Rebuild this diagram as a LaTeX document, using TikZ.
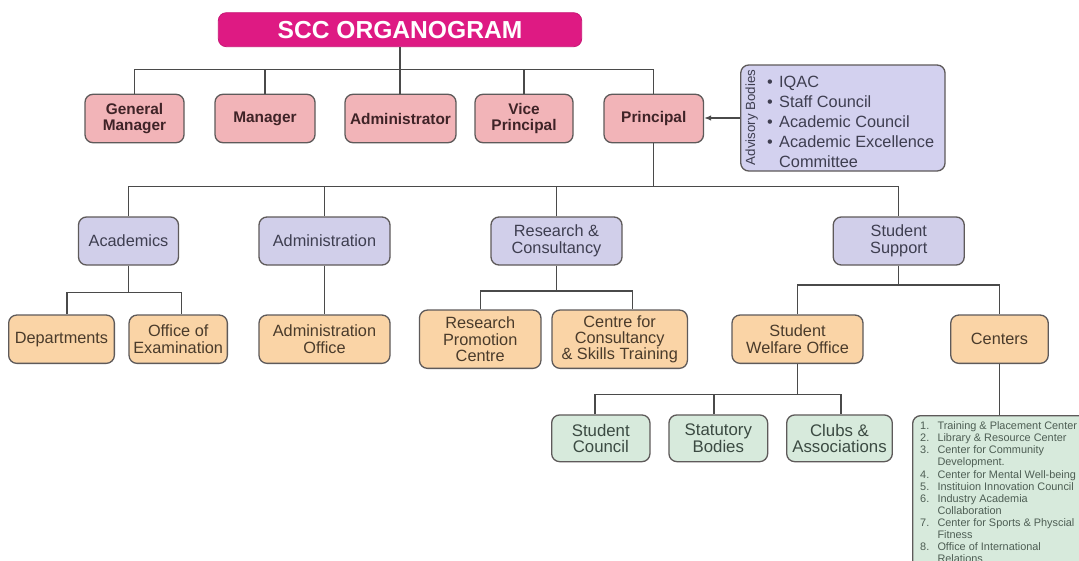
\documentclass[tikz,border=0pt]{standalone}
\usepackage{fontspec}
\setmainfont{Liberation Sans}
\usetikzlibrary{arrows.meta}
\definecolor{magentaT}{HTML}{DE1A83}
\definecolor{pinkF}{HTML}{F2B4B8}
\definecolor{lavF}{HTML}{D1CFEA}
\definecolor{peachF}{HTML}{FAD4A6}
\definecolor{greenF}{HTML}{D7EADC}
\definecolor{advF}{HTML}{D3D1EF}
\definecolor{edgeC}{HTML}{5E5A5A}
\definecolor{lineC}{HTML}{4A4A4A}
\definecolor{pinkT}{HTML}{3F2327}
\definecolor{lavT}{HTML}{3E3E50}
\definecolor{peachT}{HTML}{4A3B2B}
\definecolor{greenT}{HTML}{3B4A42}
\definecolor{listT}{HTML}{4E5E54}
\begin{document}
\begin{tikzpicture}[x=1pt,y=-1pt,
  box/.style={draw=edgeC, line width=1.3pt, rounded corners=8pt, inner sep=0pt, align=center},
  titlebox/.style={draw=magentaT!90!black, line width=0.8pt, fill=magentaT, rounded corners=8pt, inner sep=0pt,
    text=white, font=\bfseries\fontsize{24.6}{26}\selectfont},
  lvlA/.style={box, fill=pinkF, text=pinkT, font=\bfseries\fontsize{15.4}{15.2}\selectfont, minimum height=48.4pt},
  lvlB/.style={box, fill=lavF, text=lavT, font=\fontsize{16.3}{16.7}\selectfont, minimum height=48pt},
  lvlC/.style={box, fill=peachF, text=peachT, font=\fontsize{16.3}{16.2}\selectfont},
  lvlD/.style={box, fill=greenF, text=greenT, font=\fontsize{16.8}{15.4}\selectfont, minimum height=46.7pt},
  conn/.style={draw=lineC, line width=1.3pt}]
\fill[white] (0,0) rectangle (1079,560);
\useasboundingbox (0,0) rectangle (1079,560);
\clip (0,0) rectangle (1079,560);

% title
\node[titlebox, minimum width=363.4pt, minimum height=34pt] (title) at (400,29.7) {SCC ORGANOGRAM};

% level A
\node[lvlA, minimum width=99pt] (gm) at (134.5,118.5) {General\\Manager};
\node[lvlA, minimum width=100pt] (mgr) at (265,118.5) {Manager};
\node[lvlA, minimum width=111pt] (adm) at (400.5,118.5) {Administrator};
\node[lvlA, minimum width=98pt] (vp) at (524,118.5) {Vice\\Principal};
\node[lvlA, minimum width=99.5pt] (prin) at (653.75,118.5) {Principal};

% advisory bodies
\node[box, fill=advF, minimum width=204.3pt, minimum height=106pt] (adv) at (842.9,118) {};
\node[rotate=90, inner sep=0pt, text=lavT, font=\fontsize{13.3}{14}\selectfont] (advlab) at (751.7,117.5) {Advisory Bodies};
\node[anchor=north west, inner sep=0pt, text=lavT, font=\fontsize{16.3}{20}\selectfont] (advlist) at (767,72.8)
  {\begin{tabular}{@{}p{12pt}@{}l@{}}•&IQAC\\ •&Staff Council\\ •&Academic Council\\ •&Academic Excellence\\ &Committee\end{tabular}};

% level B
\node[lvlB, minimum width=100pt] (acad) at (128.5,241) {Academics};
\node[lvlB, minimum width=131pt] (admn) at (324.5,241) {Administration};
\node[lvlB, minimum width=131pt] (rc) at (556.5,241) {Research \&\\Consultancy};
\node[lvlB, minimum width=131pt] (ss) at (898.75,241) {Student\\Support};

% level C
\node[lvlC, minimum width=105.7pt, minimum height=48.3pt] (dep) at (61.5,339.2) {Departments};
\node[lvlC, minimum width=98.3pt, minimum height=48.3pt] (exam) at (178.2,339.2) {Office of\\Examination};
\node[lvlC, minimum width=131pt, minimum height=48.3pt] (admoff) at (324.5,339.2) {Administration\\Office};
\node[lvlC, minimum width=121.5pt, minimum height=58.3pt] (rpc) at (480.2,339.2) {Research\\Promotion\\Centre};
\node[lvlC, minimum width=135.4pt, minimum height=58.3pt] (cfc) at (619.7,339.2) {Centre for\\Consultancy\\\& Skills Training};
\node[lvlC, minimum width=131pt, minimum height=48.3pt] (swo) at (797.5,339.2) {Student\\Welfare Office};
\node[lvlC, minimum width=97.5pt, minimum height=48.3pt] (cent) at (999.5,339.2) {Centers};

% level D
\node[lvlD, minimum width=98.3pt] (sc) at (600.8,438.3) {Student\\Council};
\node[lvlD, minimum width=98.7pt] (sb) at (718.3,438.3) {Statutory\\Bodies};
\node[lvlD, minimum width=105.6pt] (ca) at (839.5,438.3) {Clubs \&\\Associations};

% centers list
\node[box, fill=greenF, anchor=north west, minimum width=185pt, minimum height=190pt] (clist) at (912,415) {};
\node[anchor=north west, inner sep=0pt, text=listT, font=\fontsize{10.9}{12.05}\selectfont] (clistT) at (920,421.2)
  {\begin{tabular}{@{}p{17.3pt}@{}l@{}}
  1.&Training \& Placement Center\\
  2.&Library \& Resource Center\\
  3.&Center for Community\\
    &Development.\\
  4.&Center for Mental Well-being\\
  5.&Instituion Innovation Council\\
  6.&Industry Academia\\
    &Collaboration\\
  7.&Center for Sports \& Physcial\\
    &Fitness\\
  8.&Office of International\\
    &Relations
  \end{tabular}};

% bus coordinates
\coordinate (busA) at (0,69.3);
\coordinate (busB) at (0,186.7);
\coordinate (busCa) at (0,292.5);
\coordinate (busCr) at (0,291);
\coordinate (busCs) at (0,285);
\coordinate (busD) at (0,394.3);
\coordinate (depT) at ([xshift=5.5pt]dep.north);
\coordinate (examT) at ([xshift=3pt]exam.north);
\coordinate (cfcT) at ([xshift=12.6pt]cfc.north);
\coordinate (scT) at ([xshift=-5.8pt]sc.north);
\coordinate (sbT) at ([xshift=-4.3pt]sb.north);
\coordinate (caT) at ([xshift=1.5pt]ca.north);

% connectors level A
\draw[conn] (title.south) -- (title.south |- adm.north);
\draw[conn] (gm.north) -- (gm.north |- busA) -- (prin.north |- busA) -- (prin.north);
\draw[conn] (mgr.north) -- (mgr.north |- busA);
\draw[conn] (vp.north) -- (vp.north |- busA);
\draw[conn, -{Latex[length=7pt,width=5.5pt]}] (adv.west) -- (adv.west -| prin.east);

% connectors level B
\draw[conn] (prin.south) -- (prin.south |- busB);
\draw[conn] (acad.north) -- (acad.north |- busB) -- (ss.north |- busB) -- (ss.north);
\draw[conn] (admn.north) -- (admn.north |- busB);
\draw[conn] (rc.north) -- (rc.north |- busB);

% connectors level C
\draw[conn] (acad.south) -- (acad.south |- busCa);
\draw[conn] (depT) -- (depT |- busCa) -- (examT |- busCa) -- (examT);
\draw[conn] (admn.south) -- (admoff.north);
\draw[conn] (rc.south) -- (rc.south |- busCr);
\draw[conn] (rpc.north) -- (rpc.north |- busCr) -- (cfcT |- busCr) -- (cfcT);
\draw[conn] (ss.south) -- (ss.south |- busCs);
\draw[conn] (swo.north) -- (swo.north |- busCs) -- (cent.north |- busCs) -- (cent.north);

% connectors level D
\draw[conn] (swo.south) -- (swo.south |- busD);
\draw[conn] (scT) -- (scT |- busD) -- (caT |- busD) -- (caT);
\draw[conn] (sbT) -- (sbT |- busD);
\draw[conn] (cent.south) -- (cent.south |- clist.north);
\end{tikzpicture}
\end{document}
